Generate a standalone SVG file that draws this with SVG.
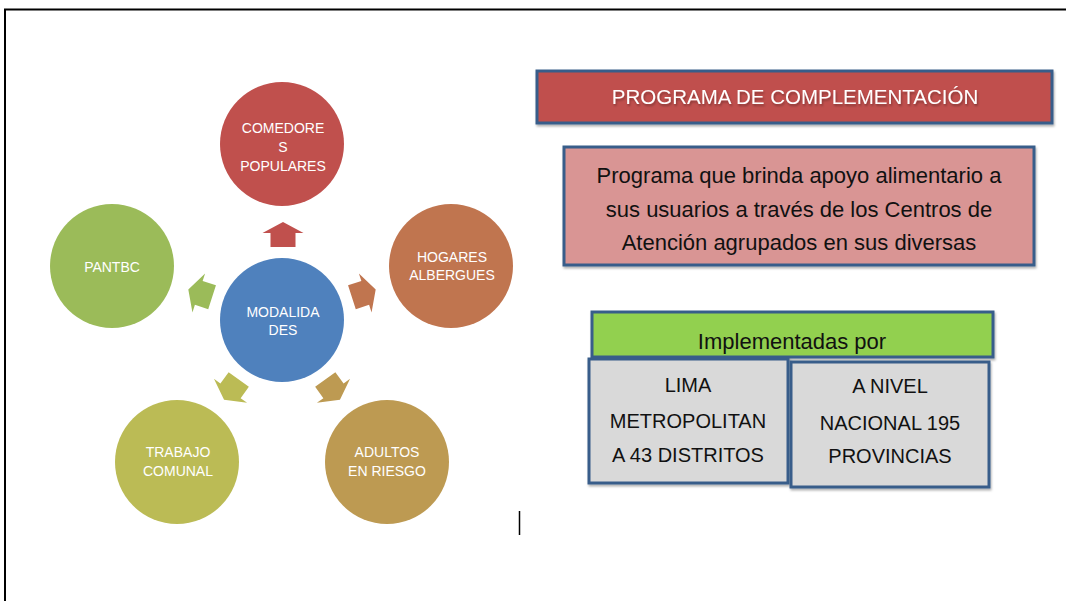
<svg xmlns="http://www.w3.org/2000/svg" width="1066" height="601" viewBox="0 0 1066 601">
<defs>
<style>
.ct{font-family:"Liberation Sans",Arial,sans-serif;font-size:14px;fill:#ffffff;text-anchor:middle}
.bt{font-family:"Liberation Sans",Arial,sans-serif;fill:#111111;text-anchor:middle}
.box{stroke:#385D8A;stroke-width:3}
</style>
<path id="arr" d="M-12.5,-12.5 L1.5,-12.5 L1.5,-20.5 L12.5,0 L1.5,20.5 L1.5,12.5 L-12.5,12.5 Z"/>
<filter id="sh" x="-5%" y="-5%" width="110%" height="120%"><feDropShadow dx="1" dy="2" stdDeviation="1.2" flood-color="#000" flood-opacity="0.3"/></filter>
<clipPath id="gclip"><rect x="592" y="312" width="401" height="45"/></clipPath>
</defs>
<rect x="0" y="0" width="1066" height="601" fill="#ffffff"/>
<path d="M5,601 L5,9.5 L1066,9.5" fill="none" stroke="#000" stroke-width="2"/>

<g id="connectors">
<use href="#arr" fill="#C0504D" transform="translate(283,234.5) rotate(-90)"/>
<use href="#arr" fill="#C0754F" transform="translate(363.8,293.4) rotate(-18)"/>
<use href="#arr" fill="#BD9A52" transform="translate(332.6,389.6) rotate(54)"/>
<use href="#arr" fill="#BBBB55" transform="translate(231.4,389.6) rotate(126)"/>
<use href="#arr" fill="#9BBB59" transform="translate(200.2,293.4) rotate(198)"/>
</g>

<g id="n-modalidades"><circle cx="282" cy="320" r="62" fill="#4F81BD"/>
<text class="ct" x="283" y="317">MODALIDA</text><text class="ct" x="283" y="335">DES</text></g>
<g id="n-comedores"><circle cx="282" cy="144" r="62" fill="#C0504D"/>
<text class="ct" x="283" y="133">COMEDORE</text><text class="ct" x="283" y="152">S</text><text class="ct" x="283" y="171">POPULARES</text></g>
<g id="n-hogares"><circle cx="451" cy="266" r="62" fill="#C0754F"/>
<text class="ct" x="452" y="262">HOGARES</text><text class="ct" x="452" y="280">ALBERGUES</text></g>
<g id="n-adultos"><circle cx="387" cy="462" r="62" fill="#BD9A52"/>
<text class="ct" x="387" y="457">ADULTOS</text><text class="ct" x="387" y="476">EN RIESGO</text></g>
<g id="n-trabajo"><circle cx="177" cy="462" r="62" fill="#BBBB55"/>
<text class="ct" x="178" y="457">TRABAJO</text><text class="ct" x="178" y="476">COMUNAL</text></g>
<g id="n-pantbc"><circle cx="112" cy="266" r="62" fill="#9BBB59"/>
<text class="ct" x="112" y="272">PANTBC</text></g>

<g id="n-titulo"><rect class="box" x="537" y="71" width="515" height="52" fill="#C0504D" filter="url(#sh)"/>
<text x="795" y="104" font-family="'Liberation Sans',Arial,sans-serif" font-size="20.5" fill="#ffffff" text-anchor="middle" filter="url(#sh)">PROGRAMA DE COMPLEMENTACIÓN</text></g>

<g id="n-descripcion"><rect class="box" x="564" y="147" width="470" height="118" fill="#D99594" filter="url(#sh)"/>
<text class="bt" font-size="22" x="799" y="183">Programa que brinda apoyo alimentario a</text>
<text class="bt" font-size="22" x="799" y="217">sus usuarios a través de los Centros de</text>
<text class="bt" font-size="22" x="799" y="250">Atención agrupados en sus diversas</text></g>

<g id="n-implementadas"><rect class="box" x="592" y="312" width="401" height="45" fill="#92D050" filter="url(#sh)"/>
<text class="bt" font-size="22" x="792" y="349" clip-path="url(#gclip)">Implementadas por</text></g>

<g id="n-lima"><rect class="box" x="589" y="359" width="199" height="124" fill="#D9D9D9" filter="url(#sh)"/>
<text class="bt" font-size="20" x="688" y="392">LIMA</text>
<text class="bt" font-size="20" x="688" y="428">METROPOLITAN</text>
<text class="bt" font-size="20" x="688" y="462">A 43 DISTRITOS</text></g>

<g id="n-nacional"><rect class="box" x="791" y="362" width="198" height="125" fill="#D9D9D9" filter="url(#sh)"/>
<text class="bt" font-size="20" x="890" y="393">A NIVEL</text>
<text class="bt" font-size="20" x="890" y="430">NACIONAL 195</text>
<text class="bt" font-size="20" x="890" y="463">PROVINCIAS</text></g>

<line x1="519.5" y1="511" x2="519.5" y2="535" stroke="#000" stroke-width="1.5"/>
</svg>
